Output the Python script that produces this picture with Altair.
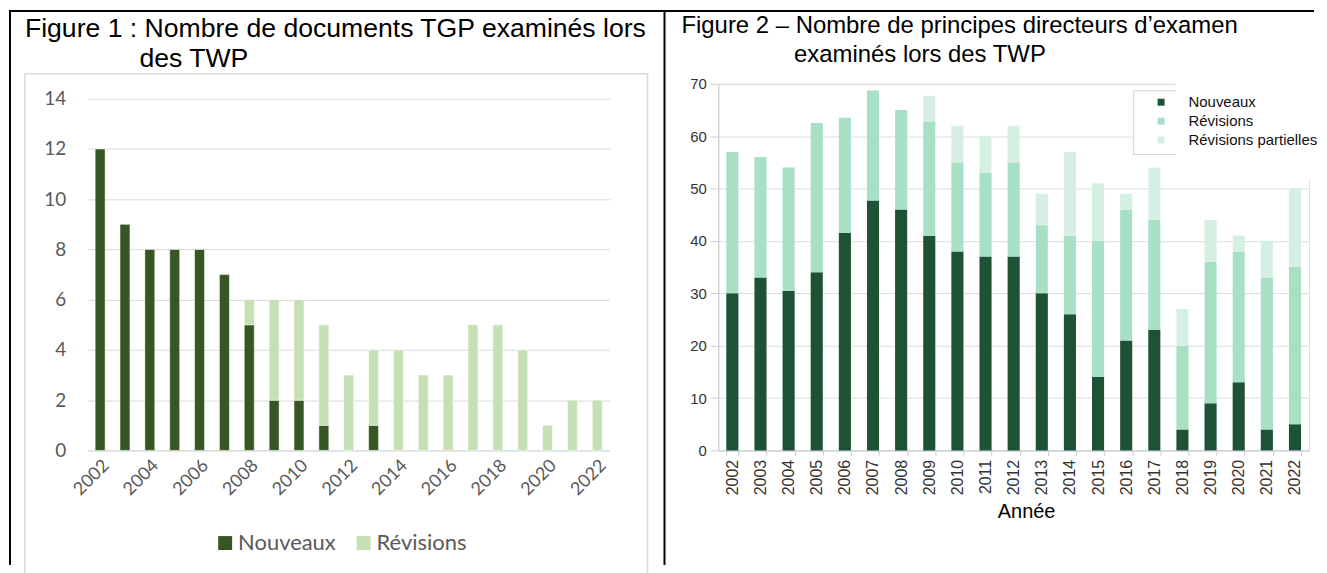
import altair as alt
import pandas as pd

# ---------------- data ----------------
years = [str(y) for y in range(2002, 2023)]

# Figure 1 : documents TGP
f1_series = ["Nouveaux", "Révisions"]
f1_nouveaux = [12, 9, 8, 8, 8, 7, 5, 2, 2, 1, 0, 1, 0, 0, 0, 0, 0, 0, 0, 0, 0]
f1_revisions = [0, 0, 0, 0, 0, 0, 1, 4, 4, 4, 3, 3, 4, 3, 3, 5, 5, 4, 1, 2, 2]
f1_yticks = [0, 2, 4, 6, 8, 10, 12, 14]
f1_xlabels = years[::2]
f1_title = ["Figure 1 : Nombre de documents TGP examinés lors", "des TWP"]

# Figure 2 : principes directeurs d'examen
f2_series = ["Nouveaux", "Révisions", "Révisions partielles"]
f2_nouveaux = [30, 33, 30.5, 34, 41.5, 47.7, 46, 41, 38, 37, 37, 30, 26, 14, 21, 23, 4, 9, 13, 4, 5]
f2_revisions = [27, 23, 23.5, 28.5, 22, 21, 19, 21.7, 17, 16, 18, 13, 15, 26, 25, 21, 16, 27, 25, 29, 30]
f2_partielles = [0, 0, 0, 0, 0, 0, 0, 5, 7, 7, 7, 6, 16, 11, 3, 10, 7, 8, 3, 7, 15]
f2_yticks = [0, 10, 20, 30, 40, 50, 60, 70]
f2_title = ["Figure 2 – Nombre de principes directeurs d’examen", "examinés lors des TWP"]
f2_xtitle = "Année"

f1_colors = ["#375623", "#C5E0B4"]
f2_colors = ["#1D5236", "#A8E0C5", "#D5F0E3"]

rows1 = []
for k, (name, vals) in enumerate(zip(f1_series, [f1_nouveaux, f1_revisions])):
    for y, v in zip(years, vals):
        if v > 0:
            rows1.append({"Année": y, "Type": name, "k": k, "v": v})
df1 = pd.DataFrame(rows1)

rows2 = []
for k, (name, vals) in enumerate(zip(f2_series, [f2_nouveaux, f2_revisions, f2_partielles])):
    for y, v in zip(years, vals):
        if v > 0:
            rows2.append({"Année": y, "Catégorie": name, "k": k, "v": v})
df2 = pd.DataFrame(rows2)

one = alt.Data(values=[{"a": 1}])
BOTTOM = 483


def black_bar(x, x2, y, y2):
    return alt.Chart(one).mark_rect(fill="black", strokeWidth=0).encode(
        x=alt.value(x), x2=alt.value(x2), y=alt.value(y), y2=alt.value(y2))


# ---------------- left panel ----------------
W1, H1 = 524, 368
bars1 = alt.Chart(df1).mark_bar(stroke="#ffffff", strokeWidth=0.5).encode(
    x=alt.X("Année:N", sort=years,
            scale=alt.Scale(paddingInner=0.6, paddingOuter=0.3),
            axis=alt.Axis(values=f1_xlabels, labelAngle=315, title=None, ticks=False,
                          domainColor="#d9d9d9", labelFont="Lato", labelFontSize=18,
                          labelColor="#595959", labelPadding=6)),
    y=alt.Y("v:Q", stack="zero",
            scale=alt.Scale(domain=[0, 14 * 368 / 353], nice=False),
            axis=alt.Axis(values=f1_yticks, title=None, ticks=False, domain=False,
                          gridColor="#d9d9d9", labelFont="Lato", labelFontSize=19,
                          labelColor="#595959", labelPadding=22)),
    color=alt.Color("Type:N", scale=alt.Scale(domain=f1_series, range=f1_colors),
                    legend=alt.Legend(title=None, orient="none", legendX=127, legendY=450,
                                      direction="horizontal", symbolType="square",
                                      symbolSize=196, symbolStrokeWidth=0,
                                      labelFont="Lato", labelFontSize=22,
                                      labelColor="#595959", columnPadding=16,
                                      labelOffset=2, padding=0)),
    order=alt.Order("k:Q"),
)

frame_gray = alt.Chart(one).mark_rect(fill=None, stroke="#d9d9d9", strokeWidth=1.5).encode(
    x=alt.value(-63), x2=alt.value(562), y=alt.value(-10), y2=alt.value(BOTTOM + 10))

left_border = black_bar(-79, -77, -74, BOTTOM)
divider = black_bar(578, 580, -74, BOTTOM)
top_border1 = black_bar(-79, 580, -74, -72)

t1a = alt.Chart(one).mark_text(align="left", baseline="top", font="Liberation Sans",
                               fontSize=26.7, color="black").encode(
    x=alt.value(-63), y=alt.value(-68), text=alt.value(f1_title[0]))
t1b = alt.Chart(one).mark_text(align="left", baseline="top", font="Liberation Sans",
                               fontSize=26.7, color="black").encode(
    x=alt.value(52), y=alt.value(-38), text=alt.value(f1_title[1]))

left = alt.layer(frame_gray, bars1, left_border, divider, top_border1, t1a, t1b).properties(
    width=W1, height=H1, view=alt.ViewBackground(stroke=None))

# ---------------- right panel ----------------
W2, H2 = 593, 368
bars2 = alt.Chart(df2).mark_bar().encode(
    x=alt.X("Année:N", sort=years,
            scale=alt.Scale(paddingInner=0.57, paddingOuter=0.285),
            axis=alt.Axis(labelAngle=270, title=f2_xtitle, tickBand="extent", tickSize=5,
                          tickColor="#cccccc", domainColor="#cccccc",
                          labelFont="Liberation Sans", labelFontSize=16, labelColor="#333333",
                          labelPadding=4, titleFont="Liberation Sans", titleFontSize=20,
                          titleFontWeight="normal", titleColor="black", titlePadding=7,
                          titleX=309, titleAlign="center")),
    y=alt.Y("v:Q", stack="zero", scale=alt.Scale(domain=[0, 70], nice=False),
            axis=alt.Axis(values=f2_yticks, title=None, tickSize=8, tickColor="#cccccc",
                          domainColor="#cccccc", gridColor="#dddddd",
                          labelFont="Liberation Sans", labelFontSize=15,
                          labelColor="#333333", labelPadding=4)),
    color=alt.Color("Catégorie:N", scale=alt.Scale(domain=f2_series, range=f2_colors),
                    legend=alt.Legend(title=None, orient="none", legendX=437, legendY=11,
                                      symbolType="square", symbolSize=49, symbolStrokeWidth=0,
                                      labelFont="Liberation Sans", labelFontSize=15,
                                      labelColor="#111111", labelOffset=20, rowPadding=3,
                                      padding=0)),
    order=alt.Order("k:Q"),
)

legend_box = alt.Chart(one).mark_rect(fill="white", stroke="#d5d5d5", strokeWidth=1).encode(
    x=alt.value(417), x2=alt.value(520), y=alt.value(7), y2=alt.value(71))
legend_cover = alt.Chart(one).mark_rect(fill="white").encode(
    x=alt.value(459), x2=alt.value(598), y=alt.value(-5), y2=alt.value(96))

top_border2 = black_bar(-55, 598, -74, -72)

t2a = alt.Chart(one).mark_text(align="left", baseline="top", font="Liberation Sans",
                               fontSize=24, color="black").encode(
    x=alt.value(-37), y=alt.value(-70), text=alt.value(f2_title[0]))
t2b = alt.Chart(one).mark_text(align="left", baseline="top", font="Liberation Sans",
                               fontSize=24, color="black").encode(
    x=alt.value(76), y=alt.value(-41), text=alt.value(f2_title[1]))

right = alt.layer(bars2, legend_box, legend_cover, top_border2, t2a, t2b).properties(
    width=W2, height=H2, view=alt.ViewBackground(stroke="#dddddd"))

chart = alt.hconcat(left, right, spacing=109, bounds="flush").resolve_scale(
    color="independent", x="independent", y="independent"
).properties(
    padding={"left": 1, "top": 0, "right": 0, "bottom": 0},
    background="white",
)

chart.save("out.html", embed_options={"renderer": "svg", "actions": False})
